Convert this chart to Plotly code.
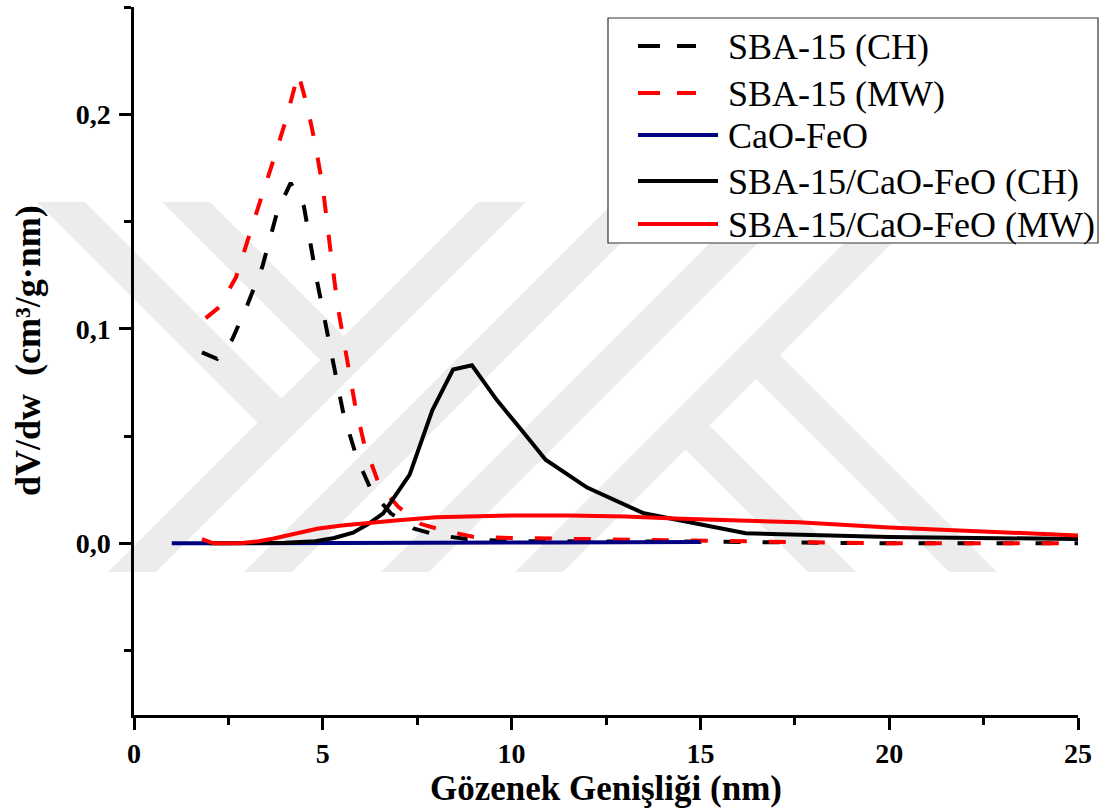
import plotly.graph_objects as go

# ---------------- data ----------------
x_sba_ch = [1.8, 2.2, 2.6, 3.0, 3.4, 3.8, 4.15, 4.5, 4.85, 5.2, 5.55, 5.9, 6.3, 6.8, 7.4, 8.0, 8.8, 10.0, 12.0, 15.0, 20.0, 25.0]
y_sba_ch = [0.089, 0.086, 0.095, 0.111, 0.129, 0.155, 0.168, 0.157, 0.122, 0.092, 0.060, 0.040, 0.024, 0.014, 0.007, 0.004, 0.002, 0.001, 0.001, 0.0008, 0.0, 0.0]

x_sba_mw = [1.9, 2.25, 2.7, 3.0, 3.35, 3.7, 4.0, 4.35, 4.6, 4.8, 5.0, 5.2, 5.4, 5.6, 5.85, 6.1, 6.5, 7.0, 7.6, 8.2, 9.0, 10.0, 12.0, 15.0, 20.0, 25.0]
y_sba_mw = [0.105, 0.110, 0.124, 0.140, 0.160, 0.179, 0.196, 0.219, 0.203, 0.186, 0.166, 0.137, 0.110, 0.090, 0.065, 0.046, 0.027, 0.017, 0.009, 0.006, 0.003, 0.0025, 0.002, 0.001, 0.0, 0.0]

x_cafeo = [1.0, 3.0, 5.0, 7.0, 9.0, 11.0, 13.0, 15.0]
y_cafeo = [0.0, 0.0, 0.0001, 0.0002, 0.0003, 0.0004, 0.0005, 0.0006]

x_comp_ch = [2.0, 3.0, 4.0, 4.8, 5.3, 5.8, 6.2, 6.6, 7.3, 7.9, 8.45, 8.95, 9.6, 10.3, 10.9, 12.0, 13.5, 16.2, 20.0, 25.0]
y_comp_ch = [0.0, 0.0, 0.0003, 0.001, 0.0025, 0.005, 0.009, 0.014, 0.032, 0.062, 0.081, 0.083, 0.067, 0.052, 0.039, 0.026, 0.014, 0.0047, 0.003, 0.002]

x_comp_mw = [1.8, 2.1, 2.8, 3.3, 3.7, 4.3, 4.85, 5.5, 6.1, 7.0, 8.0, 9.0, 10.0, 11.5, 13.0, 14.5, 16.0, 17.6, 20.0, 22.5, 25.0]
y_comp_mw = [0.002, 0.0, 0.0, 0.001, 0.0023, 0.0045, 0.0068, 0.0083, 0.0094, 0.0108, 0.0122, 0.0128, 0.013, 0.013, 0.0125, 0.0115, 0.0107, 0.0098, 0.0074, 0.0055, 0.0037]

series_names = ["SBA-15 (CH)", "SBA-15 (MW)", "CaO-FeO", "SBA-15/CaO-FeO (CH)", "SBA-15/CaO-FeO (MW)"]
x_ticks = [0, 5, 10, 15, 20, 25]
y_ticks = [0.0, 0.1, 0.2]

# ---------------- figure ----------------
W, H = 1107, 811
ML, MR, MT, MB = 134, 29, 7, 96
PW, PH = W - ML - MR, H - MT - MB

SERIF = "Liberation Serif"
DASH = "17px,22px"
LW = 4

colors = ["black", "#ff0000", "#000080", "black", "#ff0000"]
dashes = [DASH, DASH, "solid", "solid", "solid"]
data = [(x_sba_ch, y_sba_ch), (x_sba_mw, y_sba_mw), (x_cafeo, y_cafeo),
        (x_comp_ch, y_comp_ch), (x_comp_mw, y_comp_mw)]

fig = go.Figure()
for (xs, ys), nm, c, d in zip(data, series_names, colors, dashes):
    fig.add_trace(go.Scatter(x=xs, y=ys, mode="lines", name=nm, showlegend=False,
                             line=dict(color=c, width=LW, dash=d)))


def P(px, py):
    return ((px - ML) / PW, (H - MB - py) / PH)


def path(points):
    pts = [P(a, b) for a, b in points]
    return "M " + " L ".join(f"{a:.5f},{b:.5f}" for a, b in pts) + " Z"


# ---- watermark (light grey logo behind the data) ----
Y0, Y1, BW = 202, 572, 48
wm = []
for s in [680, 816, 953, 1087]:          # "/" bands  (x + y = const)
    wm.append([(s - Y0, Y0), (s + BW - Y0, Y0), (s + BW - Y1, Y1), (s - Y1, Y1)])
c1 = 680 + BW / 2                          # teeth ending on the first "/" band
for d in [-165, -40]:
    a, b = d, d + BW
    wm.append([(a + Y0, Y0), (b + Y0, Y0), ((b + c1) / 2, (c1 - b) / 2), ((a + c1) / 2, (c1 - a) / 2)])
c4 = 1087 + BW / 2                         # teeth hanging from the last "/" band
for d in [236, 377]:
    a, b = d, d + BW
    wm.append([((a + c4) / 2, (c4 - a) / 2), ((b + c4) / 2, (c4 - b) / 2), (b + Y1, Y1), (a + Y1, Y1)])

shapes = [dict(type="path", xref="paper", yref="paper", path=path(p),
               fillcolor="#ececec", line=dict(width=0), layer="below") for p in wm]

# ---- legend box (drawn by hand so that size and spacing match) ----
bx0, by0 = P(608, 18)
bx1, by1 = P(1098, 243)
shapes.append(dict(type="rect", xref="paper", yref="paper", x0=bx0, y0=by0, x1=bx1, y1=by1,
                   fillcolor="white", line=dict(color="#333333", width=1.2), layer="below"))
rows = [46, 93, 135, 181, 224]
annotations = []
for nm, c, d, ry in zip(series_names, colors, dashes, rows):
    xe = 696 if d != "solid" else 718
    lx0, ly = P(638, ry)
    lx1, _ = P(xe, ry)
    shapes.append(dict(type="line", xref="paper", yref="paper", x0=lx0, y0=ly, x1=lx1, y1=ly,
                       line=dict(color=c, width=LW, dash=("22px,17px" if d != "solid" else "solid")),
                       layer="above"))
    tx, ty = P(726, ry + 1)
    annotations.append(dict(text=nm, xref="paper", yref="paper", x=tx, y=ty,
                            xanchor="left", yanchor="middle", showarrow=False,
                            font=dict(family=SERIF, size=36, color="black")))

ytx, yty = P(28, 351)
annotations.append(dict(
    text="dV/dw\u00a0\u00a0(cm³/g·nm)", xref="paper", yref="paper",
    x=ytx, y=yty, xanchor="center", yanchor="middle",
    textangle=-90, showarrow=False,
    font=dict(family=SERIF, size=36, weight="bold", color="black"),
))

fig.update_layout(
    width=W, height=H,
    margin=dict(l=ML, r=MR, t=MT, b=MB, pad=0),
    paper_bgcolor="white", plot_bgcolor="rgba(0,0,0,0)",
    separators=",.",
    font=dict(family=SERIF, color="black"),
    shapes=shapes,
    annotations=annotations,
    showlegend=False,
    xaxis=dict(
        range=[0, 25], tickvals=x_ticks, ticktext=[str(v) for v in x_ticks],
        showgrid=False, zeroline=False, automargin=False,
        showline=True, linecolor="black", linewidth=2.5,
        ticks="outside", ticklen=12, tickwidth=2.5, tickcolor="black",
        minor=dict(dtick=2.5, tick0=0, ticks="outside", ticklen=7, tickwidth=2.5, tickcolor="black"),
        tickfont=dict(family=SERIF, size=28, weight="bold"),
        ticklabelstandoff=0,
        title=dict(text="Gözenek Genişliği (nm)", font=dict(family=SERIF, size=35, weight="bold"), standoff=8),
    ),
    yaxis=dict(
        range=[-0.08, 0.25], tickvals=y_ticks, tickformat=".1f",
        showgrid=False, zeroline=False, automargin=False,
        showline=True, linecolor="black", linewidth=2.5,
        ticks="outside", ticklen=12, tickwidth=2.5, tickcolor="black",
        minor=dict(dtick=0.05, tick0=0, ticks="outside", ticklen=7, tickwidth=2.5, tickcolor="black"),
        tickfont=dict(family=SERIF, size=28, weight="bold"),
        ticklabelstandoff=3,
    ),
)

fig.write_html("out.html")
